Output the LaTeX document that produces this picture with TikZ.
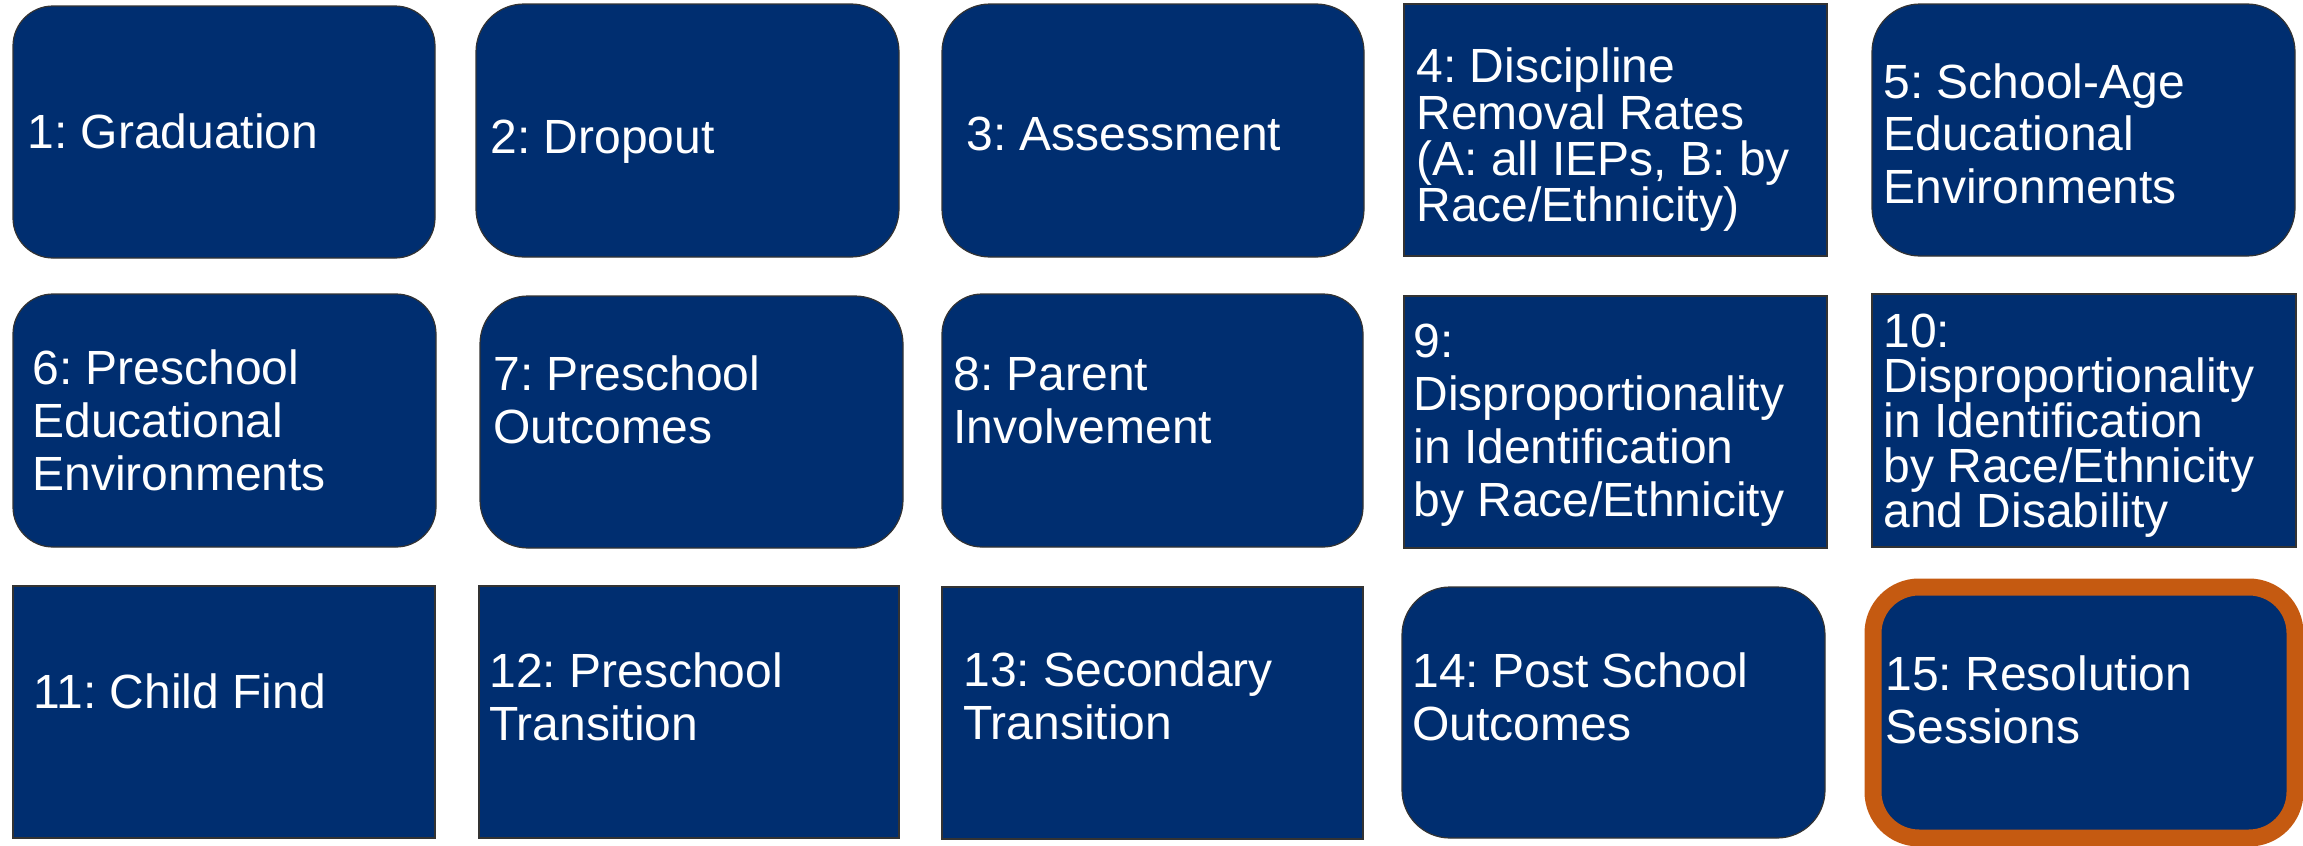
\documentclass[tikz,border=0pt]{standalone}
\usepackage{fontspec}
\setmainfont{Liberation Sans}
\usetikzlibrary{fit}
\definecolor{navy}{RGB}{0,46,112}
\definecolor{hilite}{RGB}{197,90,17}
\frenchspacing
\newcommand\mlines[2]{\vtop{\baselineskip=#1\relax\lineskiplimit=-40pt\relax\lineskip=0pt\relax\halign{##\hfil\cr#2\crcr}}}
\begin{document}
\begin{tikzpicture}[x=0.5pt,y=-0.5pt,
  box/.style={fill=navy,draw=black!80,line width=0.6pt,inner sep=0pt},
  rbox/.style={box,rounded corners=24pt},
  rboxs/.style={box,rounded corners=20pt},
  hibox/.style={box,rounded corners=23pt,draw=hilite,line width=8.5pt},
  lbl/.style={anchor=base west,inner sep=0pt,text=white,font=\fontsize{24}{26.5}\selectfont}]
\useasboundingbox (0,0) rectangle (2303,846);
% row 1
\node[rboxs,fit={(13,6)(435,258)}] (b1) {};
\node[lbl] (t1) at (27,148) {\mlines{26.5pt}{1: Graduation}};
\node[rbox,fit={(476,4)(899,257)}] (b2) {};
\node[lbl] (t2) at (490,153) {\mlines{26.5pt}{2: Dropout}};
\node[rbox,fit={(942,4)(1364,257)}] (b3) {};
\node[lbl] (t3) at (966,150) {\mlines{26.5pt}{3: Assessment}};
\node[box,fit={(1404,4)(1827,256)}] (b4) {};
\node[lbl] (t4) at (1416,83) {\mlines{23.1pt}{4: Discipline\cr Removal Rates\cr (A: all IEPs, B: by\cr Race/Ethnicity)}};
\node[rbox,fit={(1872,4)(2295,256)}] (b5) {};
\node[lbl] (t5) at (1883,98) {\mlines{26.3pt}{5: School-Age\cr Educational\cr Environments}};
% row 2
\node[rboxs,fit={(13,294)(436,547)}] (b6) {};
\node[lbl] (t6) at (32,384) {\mlines{26.7pt}{6: Preschool\cr Educational\cr Environments}};
\node[rbox,fit={(480,296)(903,548)}] (b7) {};
\node[lbl] (t7) at (493,390) {\mlines{26.5pt}{7: Preschool\cr Outcomes}};
\node[rboxs,fit={(942,294)(1363,547)}] (b8) {};
\node[lbl] (t8) at (953,390) {\mlines{26.5pt}{8: Parent\cr Involvement}};
\node[box,fit={(1404,296)(1827,548)}] (b9) {};
\node[lbl] (t9) at (1413,357) {\mlines{26.6pt}{9:\cr Disproportionality\cr in Identification\cr by Race/Ethnicity}};
\node[box,fit={(1872,294)(2296,547)}] (b10) {};
\node[lbl] (t10) at (1883,347) {\mlines{22.6pt}{10:\cr Disproportionality\cr in Identification\cr by Race/Ethnicity\cr and Disability}};
% row 3
\node[box,fit={(13,586)(435,838)}] (b11) {};
\node[lbl] (t11) at (33,708) {\mlines{26.5pt}{11: Child Find}};
\node[box,fit={(479,586)(899,838)}] (b12) {};
\node[lbl] (t12) at (489,687) {\mlines{26.5pt}{12: Preschool\cr Transition}};
\node[box,fit={(942,587)(1363,839)}] (b13) {};
\node[lbl] (t13) at (963,686) {\mlines{26.8pt}{13: Secondary\cr Transition}};
\node[rbox,fit={(1402,587)(1825,838)}] (b14) {};
\node[lbl] (t14) at (1412,687) {\mlines{26.5pt}{14: Post School\cr Outcomes}};
\node[hibox,fit={(1873,587)(2295,838)}] (b15) {};
\node[lbl] (t15) at (1885,690) {\mlines{26.5pt}{15: Resolution\cr Sessions}};
\end{tikzpicture}
\end{document}
